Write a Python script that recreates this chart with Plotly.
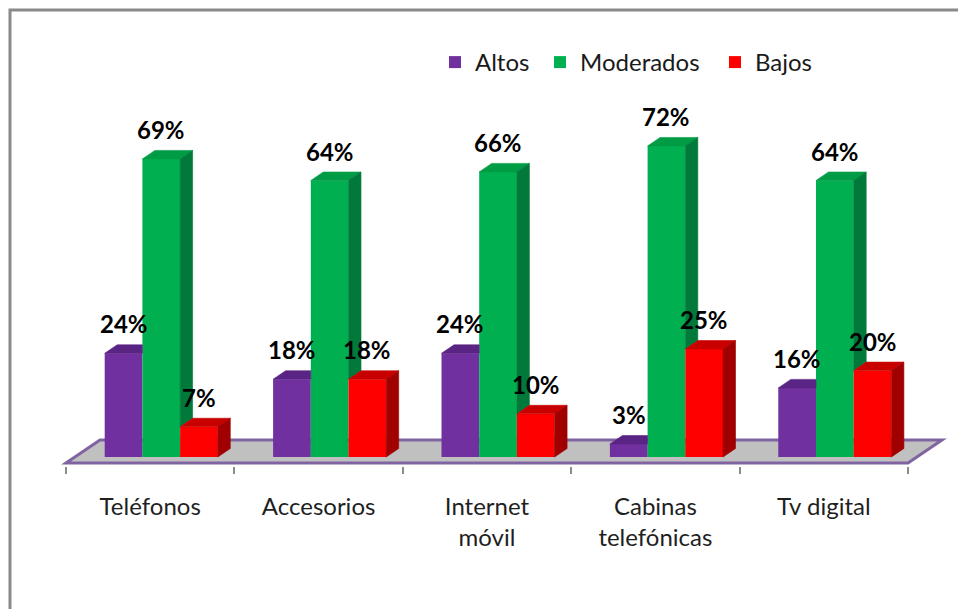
import plotly.graph_objects as go

# ---- data -------------------------------------------------------------
categories = ["Teléfonos", "Accesorios", "Internet<br>móvil",
              "Cabinas<br>telefónicas", "Tv digital"]
series_names = ["Altos", "Moderados", "Bajos"]
altos = [24, 18, 24, 3, 16]
moderados = [69, 64, 66, 72, 64]
bajos = [7, 18, 10, 25, 20]
values = [altos, moderados, bajos]

# ---- styling ----------------------------------------------------------
front_colors = ["#7030A0", "#00B050", "#FF0000"]
top_colors = ["#5A2484", "#009C45", "#C80000"]
side_colors = ["#4B1E6E", "#00793A", "#A00000"]
FONT = "Lato"

W, H = 958, 609
PX_PER_CAT = 168.4          # horizontal pixels per category
PX_PER_PCT = 4.32           # vertical pixels per percentage point
PLOT_BOTTOM = 466           # pixel row of the plot-area bottom
ZERO_ROW = 457              # pixel row of the bar bases
FLOOR_LEFT = 66             # pixel column of the floor's front-left corner

x_lo = -0.5 - FLOOR_LEFT / PX_PER_CAT
x_hi = x_lo + W / PX_PER_CAT
y_hi = ZERO_ROW / PX_PER_PCT
y_lo = (ZERO_ROW - PLOT_BOTTOM) / PX_PER_PCT

BAR_W = 37.7 / PX_PER_CAT
GROUP_LEFT = -0.5 + (104.7 - FLOOR_LEFT) / PX_PER_CAT  # relative to category centre
DX = 12.5 / PX_PER_CAT       # depth offset of bar tops/sides
DY = 8.5 / PX_PER_PCT

FLOOR_FRONT = (ZERO_ROW - 463) / PX_PER_PCT
FLOOR_BACK = (ZERO_ROW - 440) / PX_PER_PCT
FLOOR_DX = 34 / PX_PER_CAT

# legend entries are laid out individually (left edge, in pixels)
LEGEND_LEFT_PX = [435, 540, 715]
LEGEND_TOP_PX = 40
legend_ids = ["legend", "legend2", "legend3"]

fig = go.Figure()

# front faces as real bars
for j, name in enumerate(series_names):
    fig.add_trace(go.Bar(
        name=name,
        x=list(range(len(categories))),
        y=values[j],
        width=BAR_W,
        offset=GROUP_LEFT + j * BAR_W,
        marker=dict(color=front_colors[j], line=dict(width=0)),
        legend=legend_ids[j],
        hoverinfo="skip",
    ))


def poly(xs, ys, color):
    fig.add_trace(go.Scatter(
        x=xs + [xs[0]], y=ys + [ys[0]], mode="lines", fill="toself",
        fillcolor=color, line=dict(color=color, width=0.6),
        hoverinfo="skip", showlegend=False,
    ))


# tops and right-hand sides, clipped against the neighbouring bar
for i in range(len(categories)):
    for j in range(len(series_names)):
        v = values[j][i]
        x0 = i + GROUP_LEFT + j * BAR_W
        x1 = x0 + BAR_W
        nxt = values[j + 1][i] if j + 1 < len(series_names) else None
        if nxt is not None and nxt >= v + DY:
            # neighbour hides the right end of the top and the whole side
            poly([x0, x1, x1, x0 + DX], [v, v, v + DY, v + DY], top_colors[j])
        elif nxt is not None and nxt >= v:
            xc = x1 + DX * (nxt - v) / DY
            poly([x0, x1, x1, xc, x1 + DX, x0 + DX],
                 [v, v, nxt, nxt, v + DY, v + DY], top_colors[j])
        else:
            poly([x0, x1, x1 + DX, x0 + DX], [v, v, v + DY, v + DY], top_colors[j])
            base = 0 if nxt is None else nxt
            poly([x1, x1 + DX, x1 + DX, x1],
                 [base, base + DY, v + DY, v], side_colors[j])

# value labels
annotations = []
for j in range(len(series_names)):
    for i, v in enumerate(values[j]):
        annotations.append(dict(
            x=i + GROUP_LEFT + (j + 0.5) * BAR_W, y=v, xref="x", yref="y",
            text=f"{v}%", showarrow=False, yanchor="bottom", yshift=13,
            font=dict(family=FONT, size=24, color="#000000", weight="bold"),
        ))

shapes = [
    # floor of the 3-D plot
    dict(type="path", xref="x", yref="y", layer="below",
         path=(f"M {-0.5},{FLOOR_FRONT} L {-0.5 + FLOOR_DX},{FLOOR_BACK} "
               f"L {4.5 + FLOOR_DX},{FLOOR_BACK} L {4.5},{FLOOR_FRONT} Z"),
         fillcolor="#C0C0C0", line=dict(color="#8064A2", width=3)),
    # chart frame
    dict(type="rect", xref="paper", yref="paper",
         x0=10 / W, x1=1.2, y0=-0.6, y1=1 - 10 / PLOT_BOTTOM,
         line=dict(color="#8A8A8A", width=3), fillcolor="rgba(0,0,0,0)"),
]

legend_style = dict(orientation="h", xref="paper", yref="paper",
                    xanchor="left", yanchor="top",
                    font=dict(family=FONT, size=24, color="#1a1a1a"),
                    bgcolor="rgba(0,0,0,0)")
legends = {
    lid: dict(legend_style, x=LEGEND_LEFT_PX[k] / W,
              y=1 - LEGEND_TOP_PX / PLOT_BOTTOM)
    for k, lid in enumerate(legend_ids)
}

fig.update_layout(
    width=W, height=H,
    margin=dict(l=0, r=0, t=0, b=H - PLOT_BOTTOM, pad=0, autoexpand=False),
    paper_bgcolor="white", plot_bgcolor="white",
    barmode="overlay",
    showlegend=True,
    xaxis=dict(range=[x_lo, x_hi], showgrid=False, zeroline=False, showline=False,
               tickmode="array", tickvals=list(range(len(categories))),
               ticktext=categories, ticks="",
               tickfont=dict(family=FONT, size=24, color="#1f1f1f"),
               ticklabelstandoff=24,
               minor=dict(tickmode="array",
                          tickvals=[k - 0.5 for k in range(len(categories) + 1)],
                          ticks="outside", ticklen=7, tickwidth=1.5,
                          tickcolor="#8C8C8C", showgrid=False),
               fixedrange=True),
    yaxis=dict(range=[y_lo, y_hi], visible=False, fixedrange=True),
    shapes=shapes,
    annotations=annotations,
    **legends,
)

fig.write_html("out.html")
